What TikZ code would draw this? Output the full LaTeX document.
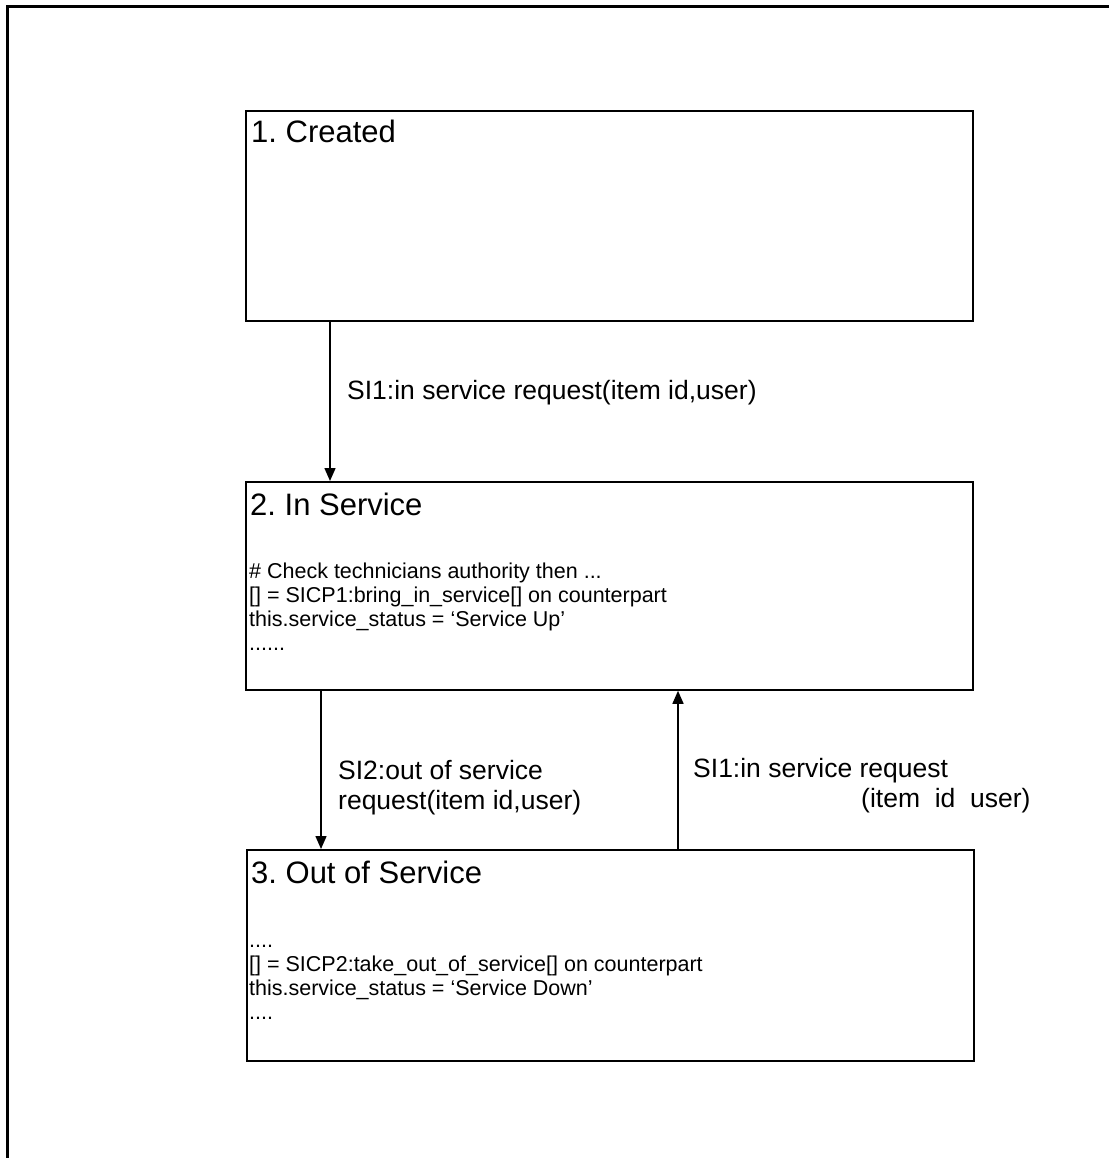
\documentclass[tikz,border=0pt]{standalone}
\usepackage{fontspec}
\setmainfont{Liberation Sans}
\frenchspacing
\usetikzlibrary{arrows.meta}
\tikzset{
  statebox/.style={draw, line width=1.8pt, inner sep=0pt, anchor=north west, minimum width=727pt, minimum height=210pt},
  titletext/.style={anchor=base west, inner sep=0pt, font=\fontsize{31}{36}\selectfont},
  bodytext/.style={anchor=base west, inner sep=0pt, align=left, font=\fontsize{21.5}{24}\selectfont},
  msgtext/.style={anchor=base west, inner sep=0pt, align=left, font=\fontsize{26.5}{30}\selectfont},
  msg/.style={line width=1.5pt, -{Triangle[length=13pt,width=11pt]}}
}
\begin{document}
\begin{tikzpicture}[x=1pt,y=-1pt]
            \useasboundingbox (0,0) rectangle (1109,1158);
            \draw[line width=3pt] (1109,7) -- (7,7) -- (7,1158);
            \node[statebox] (created) at (245,110) {};
            \node[statebox, minimum height=208pt] (inservice) at (245,481) {};
            \node[statebox, minimum height=211pt] (outservice) at (246,849) {};
            \node[titletext] (t1) at (251,143) {1. Created};
            \node[titletext] (t2) at (250,515) {2. In Service};
            \node[titletext] (t3) at (251,883) {3. Out of Service};
            \node[bodytext] (b2) at (249,650) {\# Check technicians authority then ...\\{}[] = SICP1:bring\_in\_service[] on counterpart\\this.service\_status = ‘Service Up’\\......};
            \node[bodytext] (b3) at (249,1019) {....\\{}[] = SICP2:take\_out\_of\_service[] on counterpart\\this.service\_status = ‘Service Down’\\....};
            \coordinate (x1) at (330,0);
            \coordinate (x2) at (321,0);
            \coordinate (x3) at (678,0);
            \draw[msg] (created.south -| x1) -- (inservice.north -| x1);
            \draw[msg] (inservice.south -| x2) -- (outservice.north -| x2);
            \draw[msg] (outservice.north -| x3) -- (inservice.south -| x3);
            \node[msgtext] (m1) at (347,399) {SI1:in service request(item id,user)};
            \node[msgtext] (m2) at (338,809) {SI2:out of service\\request(item id,user)};
            \node[msgtext] (m3) at (693,807) {SI1:in service request\\\hspace*{168pt}(item\ \ id\ \ user)};
\end{tikzpicture}
\end{document}
